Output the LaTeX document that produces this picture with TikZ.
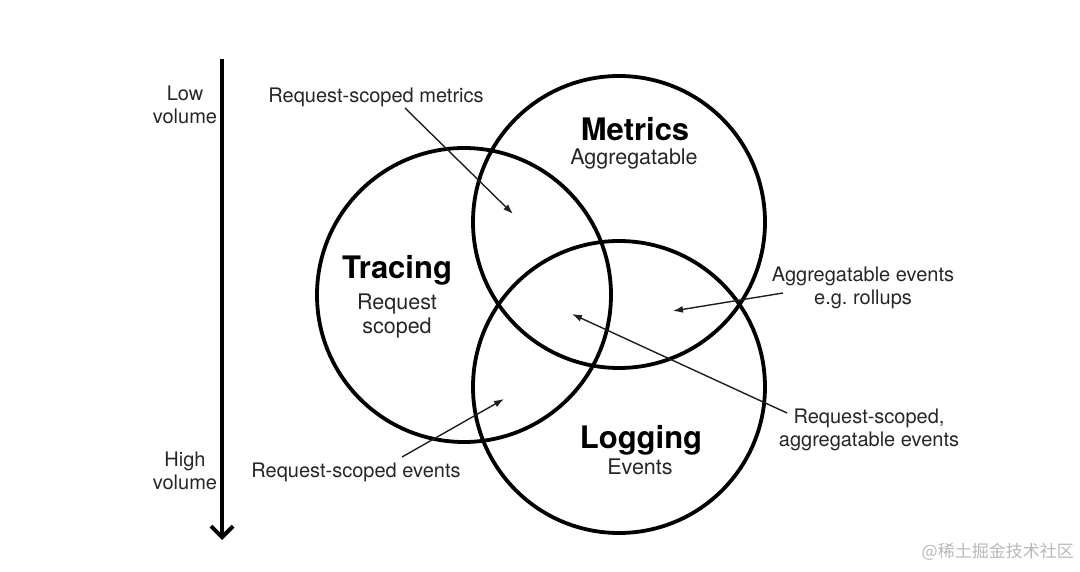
\documentclass[tikz,border=0pt]{standalone}
\usepackage{fontspec}
\setmainfont{TeX Gyre Heros}
\newfontfamily\cjk{Noto Sans CJK SC}
\usetikzlibrary{arrows.meta}
\begin{document}
\begin{tikzpicture}[x=1pt,y=-1pt,
  ring/.style={circle,draw=black,line width=3.8pt,inner sep=0pt,minimum size=#1},
  lbl/.style={text=black!85,font=\fontsize{20}{23}\selectfont,align=center,inner sep=0pt,anchor=base},
  title/.style={text=black,font=\fontsize{31}{34}\bfseries\selectfont,inner sep=0pt,anchor=base},
  sub/.style={text=black!85,font=\fontsize{21.5}{24}\selectfont,align=center,inner sep=0pt,anchor=base},
  pointer/.style={line width=1.4pt,draw=black!88,-{Latex[length=10pt,width=7pt]}},
  axis/.style={line width=4pt,draw=black,-{Straight Barb[length=11pt,width=22pt,line width=4pt]}},
]
\useasboundingbox (0,0) rectangle (1080,572);

% circles
\node[ring=294pt] (tracingC) at (464,295) {};
\node[ring=292pt] (metricsC) at (619,222) {};
\node[ring=292pt] (loggingC) at (619,387) {};

% circle titles (multi-line nodes are placed by the baseline of their last line)
\node[title] (tracingT) at (397,279) {Tracing};
\node[sub]   (tracingS) at (397,334) {Request\\scoped};
\node[title] (metricsT) at (635,141) {Metrics};
\node[sub]   (metricsS) at (634,165) {Aggregatable};
\node[title] (loggingT) at (641,448) {Logging};
\node[sub]   (loggingS) at (640,474) {Events};

% volume axis
\coordinate (axTop) at (222,59);
\coordinate (axBot) at (222,540);
\draw[axis] (axTop) -- (axBot);
\node[lbl] (low)  at (185,124) {Low\\volume};
\node[lbl] (high) at (185,489) {High\\volume};

% labels with pointers
\node[lbl] (rsm) at (376,103) {Request-scoped metrics};
\coordinate (rsmA) at (405,108);
\coordinate (rsmB) at (513,214);
\draw[pointer] (rsmA) -- (rsmB);

\node[lbl] (agg) at (863,305) {Aggregatable events\\e.g.\ rollups};
\coordinate (aggA) at (783,293);
\coordinate (aggB) at (673,311);
\draw[pointer] (aggA) -- (aggB);

\node[lbl] (rsa) at (869,446) {Request-scoped,\\aggregatable events};
\coordinate (rsaA) at (787,413);
\coordinate (rsaB) at (572,314);
\draw[pointer] (rsaA) -- (rsaB);

\node[lbl] (rse) at (356,477) {Request-scoped events};
\coordinate (rseA) at (402,457);
\coordinate (rseB) at (504,399);
\draw[pointer] (rseA) -- (rseB);

% watermark
\node[anchor=base east,inner sep=0pt,text=black!28,font=\cjk\fontsize{17}{20}\selectfont] (wm) at (1074,557) {@稀土掘金技术社区};
\end{tikzpicture}
\end{document}
